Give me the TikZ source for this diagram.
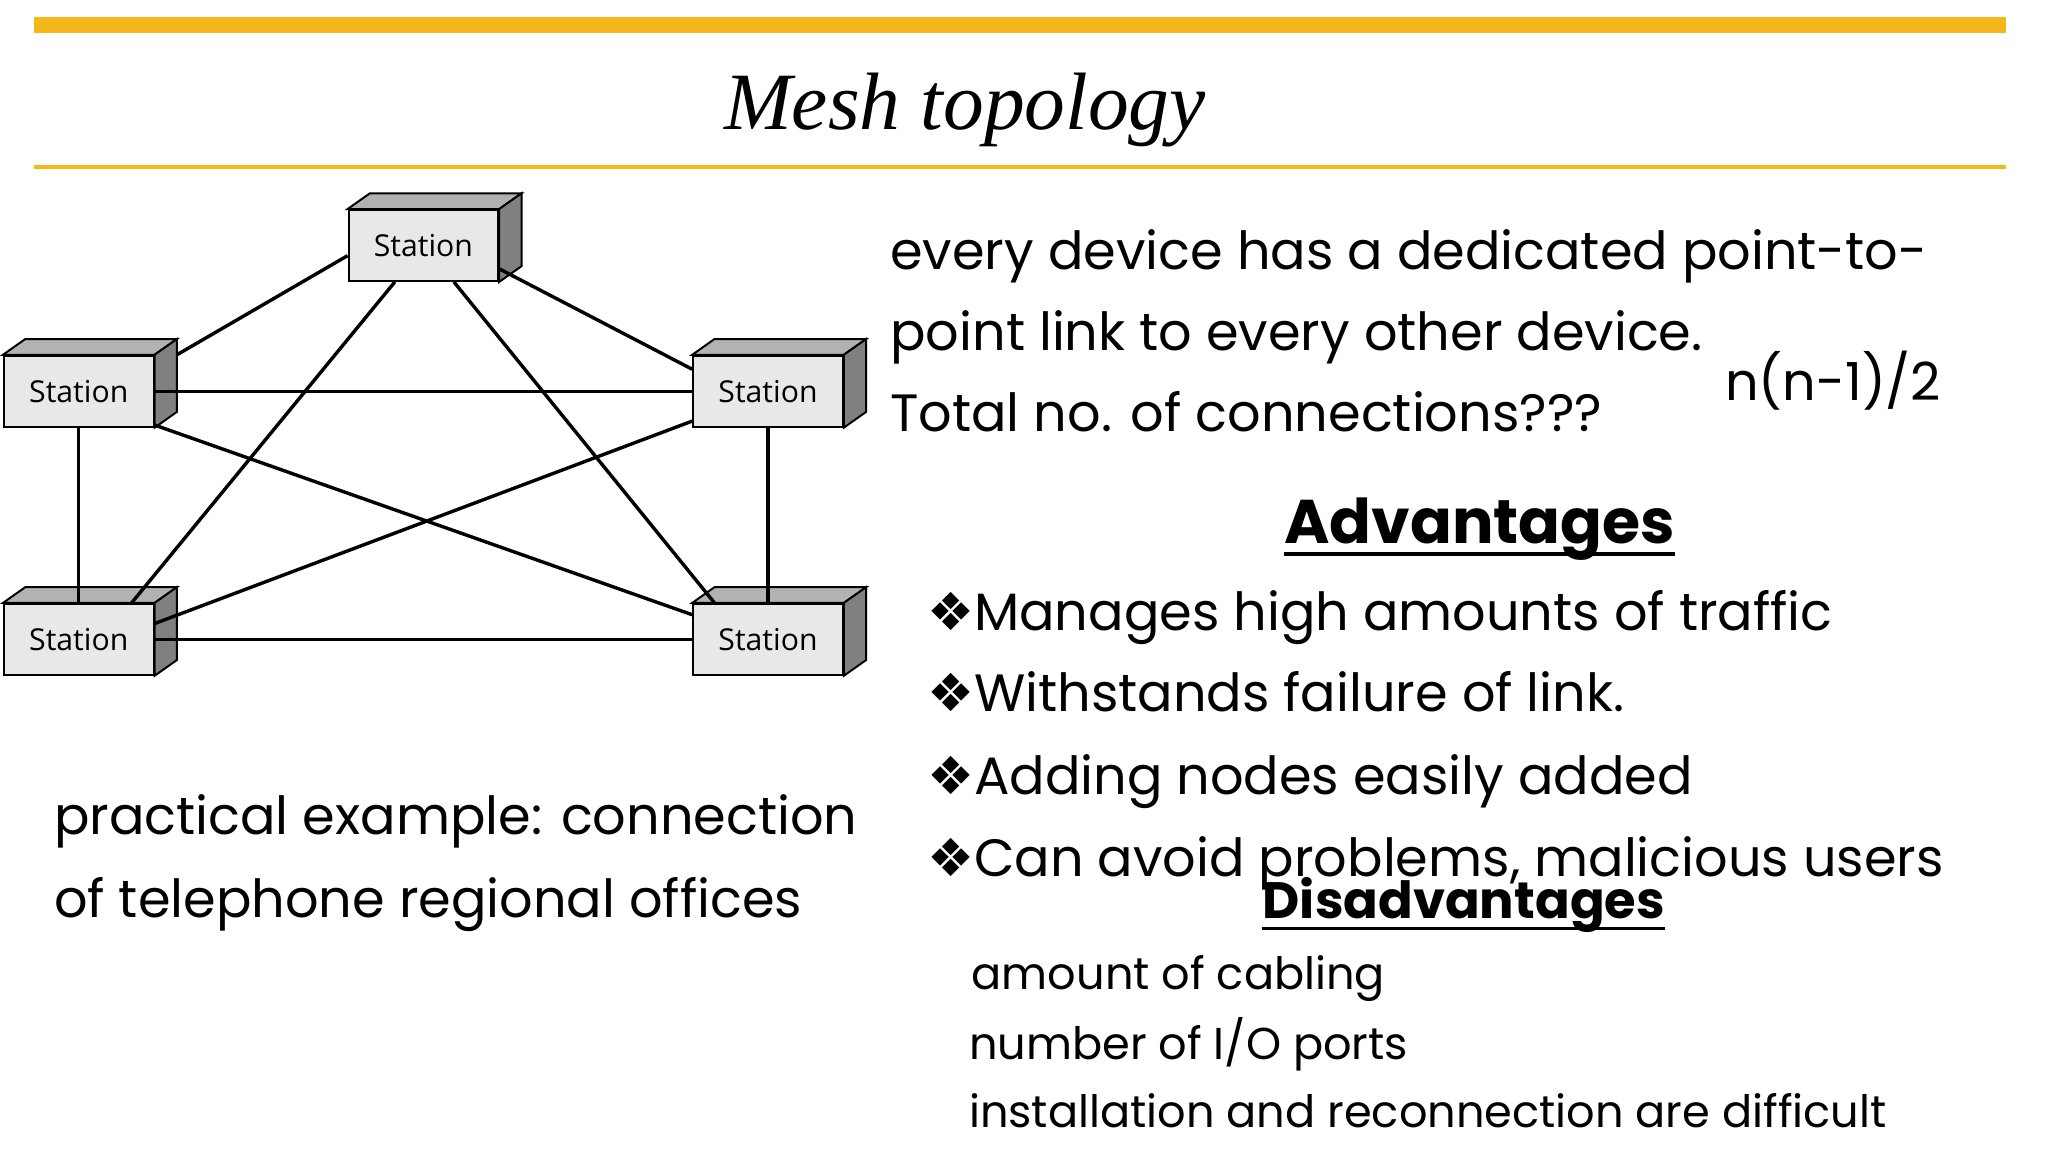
\documentclass[tikz,border=0pt]{standalone}
\usepackage{fontspec}
\setmainfont{Poppins}
\newfontfamily\stfont{Open Sans}
\newfontfamily\dv{DejaVu Sans}
\newfontfamily\ttl{Liberation Serif}
\usetikzlibrary{calc}
\definecolor{gold}{HTML}{F4B81A}
\tikzset{
 stbox/.style={draw=black,line width=1.5pt,fill=gray!18,minimum width=114pt,minimum height=54pt,inner sep=0pt,font=\stfont\fontsize{23}{23}\selectfont},
 link/.style={line width=2.6pt},
 body/.style={anchor=base west,inner sep=0pt,font=\fontsize{40}{40}\selectfont},
 small/.style={anchor=base west,inner sep=0pt,font=\fontsize{34}{34}\selectfont},
}
\newcommand{\bul}{{\dv\fontsize{40}{40}\selectfont ❖}}
\newcommand{\thickul}[1]{\underline{#1}}
\newcommand{\station}[2]{%
 \node[stbox] (#1) at (#2) {Station};
 \fill[gray!60,draw=black,line width=1.5pt] (#1.north west) -- ++(17,-12) -- ($(#1.north east)+(17,-12)$) -- (#1.north east) -- cycle;
 \fill[gray,draw=black,line width=1.5pt] (#1.north east) -- ++(17,-12) -- ($(#1.south east)+(17,-12)$) -- (#1.south east) -- cycle;
}
\begin{document}
\begin{tikzpicture}[x=1pt,y=-1pt]
\useasboundingbox[fill=white] (0,0) rectangle (1560,878);
\fill[gold] (26,13) rectangle (1528,25);
\draw[gold,line width=3pt] (26,127) -- (1528,127);
\node[font=\ttl\itshape\fontsize{62}{62}\selectfont] (title) at (735,84) {Mesh topology};
\station{T}{322.5,187}
\station{L}{60,298}
\station{R}{585,298}
\station{BL}{60,487}
\station{BR}{585,487}
\draw[link] ($(T.south west)+(36,0)$) -- ($(BL.north west)+(98,0)$);
\draw[link] ($(T.south west)+(81,0)$) -- ($(BR.north west)+(17,0)$);
\draw[link] ($(T.south west)+(0,-20)$) -- ($(L.north east)+(17,0)$);
\draw[link] ($(T.south east)+(0,-10)$) -- ($(R.north west)+(0,11)$);
\draw[link] (L.east) -- (R.west);
\draw[link] ($(L.south east)+(0,-2)$) -- ($(BR.north west)+(0,9)$);
\draw[link] ($(R.south west)+(0,-5)$) -- ($(BL.east)+(0,-12)$);
\draw[link] (L.south) -- (BL.north);
\draw[link] (R.south) -- (BR.north);
\draw[link] (BL.east) -- (BR.west);
\node[body] (t1) at (678,205) {every device has a dedicated point-to-};
\node[body] (t2) at (678,267) {point link to every other device.};
\node[body] (t3) at (678,329) {Total no. of connections???};
\node[body] (f) at (1314,305) {n(n-1)/2};
\node[anchor=base,inner sep=0pt,font=\bfseries\fontsize{47}{47}\selectfont] (adv) at (1127,414) {Advantages};
\draw[line width=2.5pt] ($(adv.base west)+(0,8)$) -- ($(adv.base east)+(0,8)$);
\node[body] (b1) at (706,480) {\bul Manages high amounts of traffic};
\node[body] (b2) at (706,542) {\bul Withstands failure of link.};
\node[body] (b3) at (706,605) {\bul Adding nodes easily added};
\node[body] (b4) at (706,668) {\bul Can avoid problems, malicious users};
\node[anchor=base,inner sep=0pt,font=\bfseries\fontsize{39}{39}\selectfont] (dis) at (1115,700) {Disadvantages};
\draw[line width=2.2pt] ($(dis.base west)+(0,7)$) -- ($(dis.base east)+(0,7)$);
\node[small] (d1) at (740,754) {amount of cabling};
\node[small] (d2) at (738,807) {number of I/O ports};
\node[small] (d3) at (738,859) {installation and reconnection are difficult};
\node[body] (p1) at (41,636) {practical example: connection};
\node[body] (p2) at (41,699) {of telephone regional offices};
\end{tikzpicture}
\end{document}
